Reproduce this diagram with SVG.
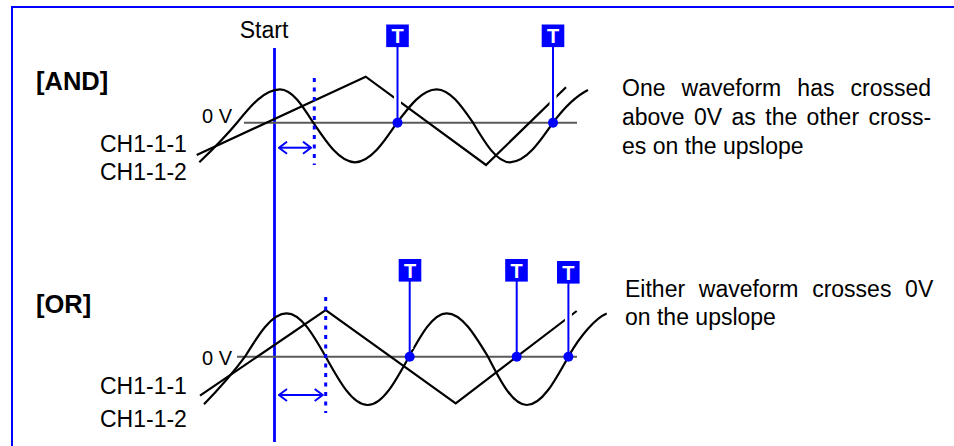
<svg xmlns="http://www.w3.org/2000/svg" width="954" height="446" viewBox="0 0 954 446">
<style>
text{font-family:"Liberation Sans",Arial,Helvetica,sans-serif;fill:#000}
.lbl{font-size:23px}
.zero{font-size:20px}
.hd{font-size:25.5px;font-weight:bold}
.tt{font-size:20px;font-weight:bold;fill:#fff;text-anchor:middle}
.wave{fill:none;stroke:#000;stroke-width:2.2;stroke-linejoin:miter}
.axis{stroke:#5a5a5a;stroke-width:2}
.blue{stroke:#0000ff;fill:none}
.halo{stroke:#fff;stroke-width:7}
.stem{stroke:#0000ff;stroke-width:2}
.tbox{fill:#0000ff}
.dot{fill:#0000ff}
.dash{stroke:#0000ff;stroke-width:3;stroke-dasharray:4 5.5}
.arr{stroke:#0000ff;stroke-width:2;fill:none;marker-start:url(#ah);marker-end:url(#ah)}
</style>
<defs>
<marker id="ah" viewBox="0 0 10 14" refX="9" refY="7" markerWidth="10" markerHeight="14" markerUnits="userSpaceOnUse" orient="auto-start-reverse">
<path d="M1,1 L9,7 L1,13" fill="none" stroke="#0000ff" stroke-width="2"/>
</marker>
</defs>

<g id="frame">
<path d="M12,446 V7 H954" fill="none" stroke="#0000ff" stroke-width="2"/>
</g>

<g id="start-marker">
<text class="lbl" x="264" y="38" text-anchor="middle">Start</text>
<line x1="274.5" y1="48" x2="274.5" y2="442" stroke="#0000ff" stroke-width="2.8"/>
</g>

<g id="and-panel">
<text class="hd" x="36" y="90">[AND]</text>
<text class="zero" x="232" y="123" text-anchor="end">0 V</text>
<text class="lbl" x="100" y="152">CH1-1-1</text>
<text class="lbl" x="100" y="180">CH1-1-2</text>
<line class="axis" x1="244" y1="122.7" x2="577" y2="122.7"/>
<polyline class="wave" points="196.7,155 365.7,76.7 486,165 566,87.3"/>
<path class="wave" d="M199.3,162.3 C211,151 226,136 237,122.7 C251,105.6 264.4,89.3 280,89.3 C292.1,89.3 302.4,105.6 313.3,122.7 C326.9,143 339.9,162.3 355,162.3 C370.2,162.3 383.3,143 397,122.7 C409.9,105.6 422.3,89.3 436.7,89.3 C449.8,89.3 461.2,105.6 473,122.7 C485.1,143 496.6,162.3 510,162.3 C525.6,162.3 539,143 553,122.7 C565.7,105.6 578,95 588,90"/>
<line class="dash" x1="314.3" y1="78" x2="314.3" y2="165"/>
<line class="arr" x1="279" y1="147.7" x2="311" y2="147.7"/>
<g id="and-t1">
<line class="halo" x1="397.5" y1="47" x2="397.5" y2="115"/>
<line class="stem" x1="397.5" y1="47" x2="397.5" y2="122.7"/>
<rect class="tbox" x="386.2" y="24.5" width="22.6" height="22.6"/>
<text class="tt" x="397.5" y="43">T</text>
<circle class="dot" cx="397.5" cy="122.7" r="5"/>
</g>
<g id="and-t2">
<line class="halo" x1="553" y1="47" x2="553" y2="115"/>
<line class="stem" x1="553" y1="47" x2="553" y2="122.7"/>
<rect class="tbox" x="541.7" y="24.5" width="22.6" height="22.6"/>
<text class="tt" x="553" y="43">T</text>
<circle class="dot" cx="553" cy="122.7" r="5"/>
</g>
<text class="lbl" x="622" y="96" word-spacing="9.7">One waveform has crossed</text>
<text class="lbl" x="622" y="125" word-spacing="3">above 0V as the other cross-</text>
<text class="lbl" x="622" y="154">es on the upslope</text>
</g>

<g id="or-panel">
<text class="hd" x="36" y="313">[OR]</text>
<text class="zero" x="232" y="365" text-anchor="end">0 V</text>
<text class="lbl" x="100" y="394">CH1-1-1</text>
<text class="lbl" x="100" y="427">CH1-1-2</text>
<line class="axis" x1="237" y1="356.7" x2="577" y2="356.7"/>
<polyline class="wave" points="200,395.7 325.7,310 455.7,403.3 576.7,311"/>
<path class="wave" d="M204,404.3 C216,392 233,373 245,356.7 C258.6,334.5 271.6,313.3 286.7,313.3 C300.8,313.3 313,334.5 325.7,356.7 C339.4,381.4 352.5,405 367.7,405 C382.6,405 395.5,381.4 409,356.7 C421.3,334.5 433.1,313.3 446.7,313.3 C461.7,313.3 474.5,334.5 488,356.7 C500.6,381.4 512.7,405 526.7,405 C541.8,405 554.7,381.4 568.3,356.7 C580.8,334.5 596,318 606.7,313.5"/>
<line class="dash" x1="325.7" y1="297" x2="325.7" y2="413"/>
<line class="arr" x1="279" y1="395" x2="322.7" y2="395"/>
<g id="or-t1">
<line class="halo" x1="409.7" y1="281" x2="409.7" y2="349"/>
<line class="stem" x1="409.7" y1="281" x2="409.7" y2="356.7"/>
<rect class="tbox" x="398.7" y="259" width="22.6" height="22.6"/>
<text class="tt" x="410" y="277.5">T</text>
<circle class="dot" cx="409.7" cy="356.7" r="5"/>
</g>
<g id="or-t2">
<line class="halo" x1="516.7" y1="281" x2="516.7" y2="349"/>
<line class="stem" x1="516.7" y1="281" x2="516.7" y2="356.7"/>
<rect class="tbox" x="505.2" y="259" width="22.6" height="22.6"/>
<text class="tt" x="516.5" y="277.5">T</text>
<circle class="dot" cx="516.7" cy="356.7" r="5"/>
</g>
<g id="or-t3">
<line class="halo" x1="568.4" y1="283" x2="568.4" y2="349"/>
<line class="stem" x1="568.4" y1="283" x2="568.4" y2="356.7"/>
<rect class="tbox" x="557" y="261" width="22.6" height="22.6"/>
<text class="tt" x="568.3" y="279.5">T</text>
<circle class="dot" cx="568.4" cy="356.7" r="5"/>
</g>
<text class="lbl" x="625" y="297" word-spacing="7.3">Either waveform crosses 0V</text>
<text class="lbl" x="625" y="325">on the upslope</text>
</g>
</svg>
